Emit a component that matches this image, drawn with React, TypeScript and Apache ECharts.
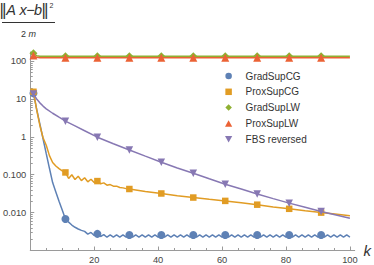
import React, { useEffect, useRef } from "react";
import * as echarts from "echarts";

const FONT = "'Liberation Sans', Arial, sans-serif";

const seriesNames = ["GradSupCG", "ProxSupCG", "GradSupLW", "ProxSupLW", "FBS reversed"];
const seriesColors = ["#5E81B5", "#E19C24", "#8FB032", "#EB6235", "#8778B3"];
const markerSteps = [1, 11, 21, 31, 41, 51, 61, 71, 81, 91];

// GradSupCG: one value per iteration k = 1..100
const gradSupCG = [
  14.1, 5.4, 2.2, 0.89, 0.36, 0.148, 0.062, 0.035, 0.02, 0.0117,
  0.0068, 0.0056, 0.0047, 0.0041, 0.0037, 0.0034, 0.0032, 0.0027, 0.003, 0.0025,
  0.00275, 0.00234, 0.00263, 0.00224, 0.00257, 0.00224, 0.00257, 0.00224, 0.00257, 0.00224,
  0.00257, 0.00224, 0.00257, 0.00224, 0.00257, 0.00224, 0.00257, 0.00224, 0.00257, 0.00224,
  0.00257, 0.00224, 0.00257, 0.00224, 0.00257, 0.00224, 0.00257, 0.00224, 0.00257, 0.00224,
  0.00257, 0.00224, 0.00257, 0.00224, 0.00257, 0.00224, 0.00257, 0.00224, 0.00257, 0.00224,
  0.00257, 0.00224, 0.00257, 0.00224, 0.00257, 0.00224, 0.00257, 0.00224, 0.00257, 0.00224,
  0.00257, 0.00224, 0.00257, 0.00224, 0.00257, 0.00224, 0.00257, 0.00224, 0.00257, 0.00224,
  0.00257, 0.00224, 0.00257, 0.00224, 0.00257, 0.00224, 0.00257, 0.00224, 0.00257, 0.00224,
  0.00257, 0.00224, 0.00257, 0.00224, 0.00257, 0.00224, 0.00257, 0.00224, 0.00257, 0.00224,
];

const proxSupCGSteps = [
  1, 2, 3, 4, 5, 6, 7, 8, 9, 10, 11, 12, 13, 14, 15, 16, 17, 18, 19, 20,
  21, 22, 23, 24, 25, 26, 27, 28, 29, 30, 31, 36, 41, 46, 51, 56, 61, 66, 71, 76,
  81, 86, 91, 96, 100,
];
const proxSupCG = [
  15.5, 5.2, 2.0, 0.95, 0.6, 0.32, 0.21, 0.17, 0.145, 0.126, 0.115, 0.08, 0.1, 0.075, 0.091,
  0.07, 0.083, 0.065, 0.076, 0.062, 0.068, 0.058, 0.061, 0.053, 0.055, 0.05, 0.05, 0.046,
  0.045, 0.043, 0.042, 0.036, 0.032, 0.028, 0.025, 0.0224, 0.0204, 0.0182, 0.0162, 0.0141,
  0.0126, 0.0112, 0.01, 0.0091, 0.0083,
];

const lwSteps = [1, 2, 3, 11, 21, 31, 41, 51, 61, 71, 81, 91, 100];
const gradSupLW = [162, 138, 135, 135, 135, 135, 135, 135, 135, 135, 135, 135, 135];
const proxSupLW = [140, 126, 123, 123, 123, 123, 123, 123, 123, 123, 123, 123, 123];

const fbsSteps = [
  1, 2, 3, 4, 5, 7, 9, 11, 14, 17, 21, 26, 31, 36, 41, 46, 51, 56, 61, 66, 71, 76, 81, 86, 91,
  96, 100,
];
const fbsReversed = [
  13.5, 10, 7.9, 6.5, 5.5, 4.2, 3.3, 2.6, 1.95, 1.45, 0.98, 0.66, 0.45, 0.31, 0.214, 0.151,
  0.11, 0.078, 0.056, 0.042, 0.031, 0.0234, 0.0178, 0.0138, 0.0107, 0.0085, 0.0071,
];

const xTickValues = [20, 40, 60, 80, 100];
const xMinorTicks = [5, 10, 15, 25, 30, 35, 45, 50, 55, 65, 70, 75, 85, 90, 95];
const yTickValues = [0.001, 0.01, 0.1, 1, 10, 100];
const yLabelValues = [0.01, 0.1, 1, 10, 100];
const yLabelTexts = ["0.010", "0.100", "1", "10", "100"];
const yMinorMantissas = [2, 3, 4, 5, 6, 7, 8, 9];
const yMinorDecades = [0.001, 0.01, 0.1, 1, 10];

const legendIcons = [
  "path://M5,0A5,5,0,1,1,5,10A5,5,0,1,1,5,0Z",
  "path://M0,0H10V10H0Z",
  "path://M5,0L10,5L5,10L0,5Z",
  "path://M5,0L10,9L0,9Z",
  "path://M0,0L10,0L5,9Z",
];

const lg = (v: number) => Math.log10(v);

export default function App() {
  const ref = useRef<HTMLDivElement>(null);
  useEffect(() => {
    if (!ref.current) return;
    const chart = echarts.init(ref.current, null, { renderer: "svg" });

    const gradK = gradSupCG.map((_, i) => i + 1);
    const seriesDefs = [
      { steps: gradK, vals: gradSupCG, symbol: "circle", size: 8, rotate: 0 },
      { steps: proxSupCGSteps, vals: proxSupCG, symbol: "rect", size: 6.5, rotate: 0 },
      { steps: lwSteps, vals: gradSupLW, symbol: "diamond", size: 8, rotate: 0 },
      { steps: lwSteps, vals: proxSupLW, symbol: "triangle", size: 8, rotate: 0 },
      { steps: fbsSteps, vals: fbsReversed, symbol: "triangle", size: 7.5, rotate: 180 },
    ];

    const lineSeries = seriesDefs.map((d, i) => ({
      name: seriesNames[i],
      type: "line",
      data: d.steps.map((k, j) => [k, lg(d.vals[j])]),
      showSymbol: true,
      showAllSymbol: true,
      symbol: (val: number[]) => (markerSteps.includes(val[0]) ? d.symbol : "none"),
      symbolSize: d.size,
      symbolRotate: d.rotate,
      lineStyle: { color: seriesColors[i], width: 1.5 },
      itemStyle: { color: seriesColors[i] },
      z: 3 + i,
      emphasis: { disabled: true },
    }));

    const minorData: number[][] = [];
    yMinorDecades.forEach((dec) =>
      yMinorMantissas.forEach((m) => minorData.push([0, lg(m * dec), 0]))
    );
    xMinorTicks.forEach((x) => minorData.push([x, -3, 1]));

    const tickSeries = {
      name: "minorTicks",
      type: "custom",
      silent: true,
      clip: false,
      z: 2,
      encode: { x: 0, y: 1 },
      data: minorData,
      renderItem: (_p: any, api: any) => {
        const p = api.coord([api.value(0), api.value(1)]);
        const isX = api.value(2) === 1;
        const px = Math.round(p[0]) + 0.5;
        const py = Math.round(p[1]) + 0.5;
        return {
          type: "line",
          shape: isX
            ? { x1: px, y1: p[1], x2: px, y2: p[1] - 2.5 }
            : { x1: p[0], y1: py, x2: p[0] + 2.5, y2: py },
          style: { stroke: "#9a9a9a", lineWidth: 1 },
        };
      },
    };

    const axisColor = "#9a9a9a";
    const labelColor = "#444";

    chart.setOption({
      animation: false,
      grid: { left: 28, top: 52, width: 329, height: 198.5 },
      xAxis: {
        type: "value",
        min: 0,
        max: 101.5,
        splitLine: { show: false },
        axisLine: { onZero: false, lineStyle: { color: axisColor, width: 1 } },
        axisTick: {
          inside: true,
          length: 4,
          customValues: xTickValues,
          lineStyle: { color: axisColor },
        },
        axisLabel: {
          customValues: xTickValues,
          fontSize: 9.3,
          fontFamily: FONT,
          color: labelColor,
          margin: 5,
        },
        name: "k",
        nameLocation: "end",
        nameGap: 7,
        nameTextStyle: {
          fontStyle: "italic",
          fontSize: 15,
          fontFamily: FONT,
          color: "#333",
          verticalAlign: "middle",
        },
      },
      yAxis: {
        type: "value",
        min: -3,
        max: 2.24,
        splitLine: { show: false },
        axisLine: { onZero: false, lineStyle: { color: axisColor, width: 1 } },
        axisTick: {
          inside: true,
          length: 4,
          customValues: yTickValues.map(lg),
          lineStyle: { color: axisColor },
        },
        axisLabel: {
          customValues: yLabelValues.map(lg),
          formatter: (v: number) => {
            const idx = yLabelValues.findIndex((y) => Math.abs(lg(y) - v) < 1e-6);
            return idx >= 0 ? yLabelTexts[idx] : "";
          },
          fontSize: 9.3,
          fontFamily: FONT,
          color: labelColor,
          margin: 4,
        },
      },
      legend: {
        orient: "vertical",
        left: 225,
        top: 70,
        padding: 0,
        itemWidth: 24,
        itemHeight: 6.5,
        itemGap: 3.8,
        selectedMode: false,
        textStyle: { fontSize: 10, fontFamily: FONT, color: "#333", lineHeight: 12 },
        data: seriesNames.map((n, i) => ({
          name: n,
          icon: legendIcons[i],
          itemStyle: { color: seriesColors[i] },
        })),
      },
      graphic: [
        {
          type: "text",
          x: 0,
          y: 9.5,
          style: {
            text: "{n|‖}{i|A x}{m|−}{i|b}{n|‖}",
            verticalAlign: "middle",
            rich: {
              n: {
                fontSize: 16,
                fontFamily: "'DejaVu Sans', sans-serif",
                fill: "#333",
                width: 6,
                align: "center",
              },
              m: {
                fontSize: 14.5,
                fontFamily: FONT,
                fill: "#333",
                width: 7,
                align: "center",
              },
              i: { fontSize: 14.5, fontFamily: FONT, fontStyle: "italic", fill: "#333" },
            },
          },
        },
        {
          type: "text",
          x: 49.5,
          y: 5,
          style: {
            text: "2",
            fontSize: 7,
            fontFamily: FONT,
            fill: "#333",
            verticalAlign: "middle",
          },
        },
        {
          type: "line",
          shape: { x1: 2, y1: 22.5, x2: 55, y2: 22.5 },
          style: { stroke: "#333", lineWidth: 1 },
        },
        {
          type: "text",
          x: 28.5,
          y: 33.5,
          style: {
            text: "{n|2 }{i|m}",
            align: "center",
            verticalAlign: "middle",
            rich: {
              n: { fontSize: 9, fontFamily: FONT, fill: "#333" },
              i: { fontSize: 9, fontFamily: FONT, fontStyle: "italic", fill: "#333" },
            },
          },
        },
      ],
      series: [tickSeries, ...lineSeries],
    });

    return () => chart.dispose();
  }, []);

  return (
    <div
      ref={ref}
      style={{ position: "absolute", left: 0, top: 0, width: 374, height: 265 }}
    />
  );
}
